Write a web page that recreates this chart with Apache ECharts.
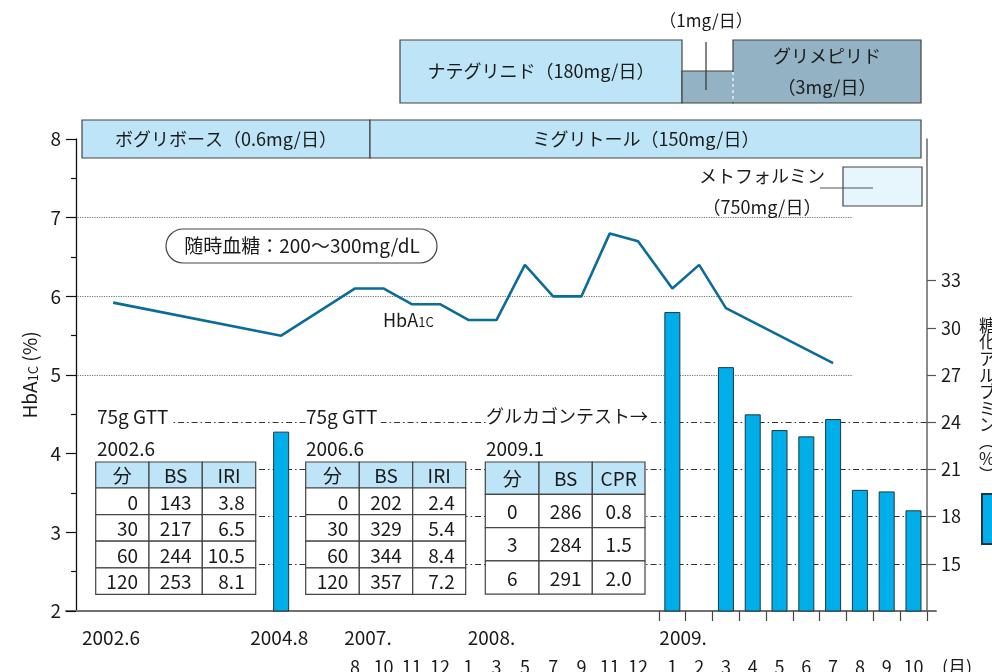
<!DOCTYPE html>
<html lang="ja">
<head>
<meta charset="utf-8">
<title>HbA1c・糖化アルブミンの経過</title>
<script src="https://cdn.jsdelivr.net/npm/echarts@6.0.0/dist/echarts.min.js"></script>
<style>
  html, body { margin: 0; padding: 0; background: #fff; }
  #chart { width: 992px; height: 672px; }
</style>
</head>
<body>
<div id="chart"></div>
<script>
// HbA1c (%)
var hbaDates = ['2002.6', '2004.8', '2007.8', '2007.10', '2007.11', '2007.12', '2008.1', '2008.3', '2008.5',
                '2008.7', '2008.9', '2008.11', '2008.12', '2009.1', '2009.2', '2009.3', '2009.7'];
var hbaValues = [5.92, 5.5, 6.1, 6.1, 5.9, 5.9, 5.7, 5.7, 6.4, 6.0, 6.0, 6.8, 6.7, 6.1, 6.4, 5.85, 5.15];

// 糖化アルブミン (%)
var gaDates = ['2004.8', '2009.1', '2009.3', '2009.4', '2009.5', '2009.6', '2009.7', '2009.8', '2009.9', '2009.10'];
var gaValues = [23.4, 31.0, 27.5, 24.5, 23.5, 23.1, 24.2, 19.7, 19.6, 18.4];

// bottom labels
var monthDates = ['2007.8', '2007.10', '2007.11', '2007.12', '2008.1', '2008.3', '2008.5', '2008.7', '2008.9',
                  '2008.11', '2008.12', '2009.1', '2009.2', '2009.3', '2009.4', '2009.5', '2009.6', '2009.7',
                  '2009.8', '2009.9', '2009.10'];
var monthLabels = ['8', '10', '11', '12', '1', '3', '5', '7', '9', '11', '12',
                   '1', '2', '3', '4', '5', '6', '7', '8', '9', '10'];
var yearLabels = ['2002.6', '2004.8', '2007.', '2008.', '2009.'];
var rightTicks = [15, 18, 21, 24, 27, 30, 33];

// 75g GTT 2002.6
var gtt1Min = [0, 30, 60, 120];
var gtt1BS = [143, 217, 244, 253];
var gtt1IRI = [3.8, 6.5, 10.5, 8.1];
// 75g GTT 2006.6
var gtt2Min = [0, 30, 60, 120];
var gtt2BS = [202, 329, 344, 357];
var gtt2IRI = [2.4, 5.4, 8.4, 7.2];
// グルカゴンテスト 2009.1
var glgMin = [0, 3, 6];
var glgBS = [286, 284, 291];
var glgCPR = [0.8, 1.5, 2.0];

// ---- broken time axis: 1 unit = one month of 2009, 0 = start of 2009 ----
var visitOrder = monthDates.slice(0, 11);
function col(d) {
  if (d === '2002.6') return -20.37;
  if (d === '2004.8') return -14.1;
  var i = visitOrder.indexOf(d);
  if (i >= 0) return -11.34 + i * 1.056;
  return +d.split('.')[1] - 0.5;
}
var monthCols = monthDates.map(col);
var yearLabelCol = [-20.45, -14.17, -10.86, -6.25, 0.9];
function nearest(list, labels, v) {
  var best = 0;
  for (var i = 1; i < list.length; i++) {
    if (Math.abs(list[i] - v) < Math.abs(list[best] - v)) best = i;
  }
  return labels[best];
}

var FONT = "'Noto Sans CJK JP', 'Noto Sans', sans-serif";
var INK = '#1a1a1a';
var LIGHT = '#bee4f7';
var GREYBLUE = '#93b2c4';

function txt(x, y, s, size, opts) {
  var st = { text: s, fontSize: size, fontFamily: FONT, fill: INK, align: 'center', verticalAlign: 'middle' };
  for (var k in (opts || {})) st[k] = opts[k];
  return { type: 'text', x: x, y: y, z: 20, style: st };
}
function box(x, y, w, h, fill, extra) {
  var e = { type: 'rect', z: 20, shape: { x: x, y: y, width: w, height: h },
            style: { fill: fill, stroke: '#444', lineWidth: 1.2 } };
  if (extra) for (var k in extra) e.shape[k] = extra[k];
  return e;
}
function seg(x1, y1, x2, y2, color, dash, w) {
  return { type: 'line', z: 21, shape: { x1: x1, y1: y1, x2: x2, y2: y2 },
           style: { stroke: color, lineWidth: w || 1.2, lineDash: dash || null } };
}

// table drawn from the arrays above
function table(x0, y0, colW, headH, rowH, heads, cols, aligns, fmt) {
  var out = [];
  var x = x0;
  for (var c = 0; c < colW.length; c++) {
    out.push(box(x, y0, colW[c], headH, LIGHT));
    out.push(txt(x + colW[c] / 2, y0 + headH / 2 + 1, heads[c], 19));
    for (var r = 0; r < cols[c].length; r++) {
      var yy = y0 + headH + r * rowH;
      out.push(box(x, yy, colW[c], rowH, '#fff'));
      var v = fmt[c] ? cols[c][r].toFixed(1) : String(cols[c][r]);
      if (aligns[c] === 'right') {
        out.push(txt(x + colW[c] - 11, yy + rowH / 2 + 1, v, 19, { align: 'right' }));
      } else {
        out.push(txt(x + colW[c] / 2, yy + rowH / 2 + 1, v, 19));
      }
    }
    x += colW[c];
  }
  return out;
}

var graphics = [];
// top regimen boxes
graphics.push(box(400, 40, 282, 63, LIGHT));
graphics.push(box(682, 71, 51, 32, GREYBLUE));
graphics.push(box(733, 40, 188, 63, GREYBLUE));
graphics.push(seg(733, 72, 733, 102, GREYBLUE, null, 2));
graphics.push(seg(733, 72, 733, 102, '#ffffff', [3, 3]));
graphics.push(seg(706, 42, 706, 90, '#333'));
graphics.push(txt(706, 21, '（1mg/日）', 17));
graphics.push(txt(541, 71, 'ナテグリニド（180mg/日）', 18));
graphics.push(txt(827, 56, 'グリメピリド', 18));
graphics.push(txt(827, 87, '（3mg/日）', 18));
graphics.push(box(82, 120, 288, 38, LIGHT));
graphics.push(box(370, 120, 551, 38, LIGHT));
graphics.push(txt(226, 139, 'ボグリボース（0.6mg/日）', 18));
graphics.push(txt(646, 139, 'ミグリトール（150mg/日）', 18));
graphics.push(box(843, 167, 79, 39, '#e7f5fd'));
graphics.push(seg(820, 188, 873, 188, '#555'));
graphics.push(txt(762, 176, 'メトフォルミン', 18));
graphics.push(txt(762, 207, '（750mg/日）', 18));
// note
graphics.push(box(166, 229, 271, 34, '#fff', { r: 17 }));
graphics.push(txt(302, 246, '随時血糖：200〜300mg/dL', 19));
graphics.push({ type: 'text', x: 383, y: 320, z: 20,
  style: { text: '{a|HbA}{b|1C}', verticalAlign: 'middle', fill: INK,
           rich: { a: { fontSize: 18, fontFamily: FONT, fill: INK },
                   b: { fontSize: 13, fontFamily: FONT, fill: INK, verticalAlign: 'bottom' } } } });
// right axis title (vertical, runs off the right edge as in the source)
graphics.push({ type: 'text', x: 979, y: 317, z: 20,
  style: { text: '糖\n化\nア\nル\nブ\nミ\nン\n︵\n%\n︶', fontSize: 17, lineHeight: 16.6,
           fontFamily: FONT, fill: INK, align: 'left', verticalAlign: 'top' } });
// test captions
var cap = { align: 'left', backgroundColor: '#fff', padding: [0, 3, 0, 0] };
graphics.push(txt(97, 417, '75g GTT', 19, cap));
graphics.push(txt(97, 449, '2002.6', 19, cap));
graphics.push(txt(306, 417, '75g GTT', 19, cap));
graphics.push(txt(306, 449, '2006.6', 19, cap));
graphics.push(txt(486, 416, 'グルカゴンテスト→', 18, cap));
graphics.push(txt(486, 449, '2009.1', 19, cap));
graphics = graphics
  .concat(table(95.7, 462, [53.3, 53.3, 53.4], 26, 26.6, ['分', 'BS', 'IRI'],
                [gtt1Min, gtt1BS, gtt1IRI], ['right', 'center', 'right'], [0, 0, 1]))
  .concat(table(305.7, 462, [53.6, 53.4, 53], 26, 26.6, ['分', 'BS', 'IRI'],
                [gtt2Min, gtt2BS, gtt2IRI], ['right', 'center', 'right'], [0, 0, 1]))
  .concat(table(485.3, 462, [53.7, 53.3, 52.7], 32.3, 33.3, ['分', 'BS', 'CPR'],
                [glgMin, glgBS, glgCPR], ['center', 'center', 'center'], [0, 0, 1]));

var chart = echarts.init(document.getElementById('chart'));
var XMIN = -22.13, XMAX = 10.34;
function gridBox() {
  return { left: 66, right: 56, top: 139, bottom: 61, outerBoundsMode: 'none', containLabel: false };
}

chart.setOption({
  animation: false,
  textStyle: { fontFamily: FONT, color: INK },
  grid: [gridBox(), gridBox()],
  legend: {
    data: ['糖化アルブミン'], left: 981, top: 493, padding: 0, orient: 'vertical', icon: 'rect',
    itemWidth: 22, itemHeight: 50, selectedMode: false, textStyle: { fontSize: 16 }
  },
  xAxis: [{
    type: 'value', gridIndex: 0, min: XMIN, max: XMAX,
    axisLine: { onZero: false, lineStyle: { color: '#707070', width: 2 } },
    axisTick: { customValues: [0, 1, 2, 3, 4, 5, 6, 7, 8, 9, 10], length: 10, lineStyle: { color: '#444', width: 1.2 } },
    axisLabel: { customValues: yearLabelCol, margin: 17, fontSize: 19, color: INK,
                 formatter: function (v) { return nearest(yearLabelCol, yearLabels, v); } },
    splitLine: { show: false }
  }, {
    type: 'value', gridIndex: 1, min: XMIN, max: XMAX,
    axisLine: { show: false }, axisTick: { show: false }, splitLine: { show: false },
    axisLabel: { customValues: monthCols, margin: 47, fontSize: 18, color: INK,
                 formatter: function (v) { return nearest(monthCols, monthLabels, v); } },
    name: '(月)', nameLocation: 'end', nameGap: 6,
    nameTextStyle: { fontSize: 18, color: INK, verticalAlign: 'top', padding: [47, 0, 0, 0] }
  }],
  yAxis: [{
    type: 'value', gridIndex: 0, position: 'left', min: 2, max: 8, interval: 1, offset: -10,
    axisLine: { show: true, onZero: false, lineStyle: { color: '#111', width: 1.3 } },
    axisTick: { show: true, length: 10, lineStyle: { color: '#111', width: 1.2 } },
    minorTick: { show: true, splitNumber: 2, length: 5, lineStyle: { color: '#111', width: 1.2 } },
    axisLabel: { fontSize: 19, margin: 15, color: INK },
    splitLine: { show: false },
    name: '{a|HbA}{b|1C}{a| (%)}', nameLocation: 'middle', nameGap: 36,
    nameTextStyle: { rich: { a: { fontSize: 19, fontFamily: FONT, color: INK },
                             b: { fontSize: 13, fontFamily: FONT, color: INK, verticalAlign: 'bottom' } } }
  }, {
    type: 'value', gridIndex: 0, position: 'right', min: 12, max: 42, interval: 3, offset: -9,
    axisLine: { show: true, onZero: false, lineStyle: { color: '#666', width: 1.5 } },
    axisTick: { show: true, customValues: rightTicks, length: 9, lineStyle: { color: '#555', width: 1.2 } },
    axisLabel: { customValues: rightTicks, fontSize: 18, margin: 14, color: INK },
    splitLine: { show: false }
  }, {
    type: 'value', gridIndex: 1, min: 0, max: 1, show: false
  }],
  series: [{
    type: 'bar', name: '糖化アルブミン', xAxisIndex: 0, yAxisIndex: 1, barWidth: 16, z: 2,
    data: gaDates.map(function (d, i) { return [col(d), gaValues[i]]; }),
    itemStyle: { color: '#00aee9', borderColor: '#1e3644', borderWidth: 1 },
    markLine: {
      silent: true, symbol: 'none', z: 1, label: { show: false },
      lineStyle: { type: [6, 3, 1.5, 3], color: '#333', width: 1.1 },
      data: [15, 18, 21, 24].map(function (v) { return [{ coord: [-20.97, v] }, { coord: [10, v] }]; })
    }
  }, {
    type: 'line', name: 'HbA1c', xAxisIndex: 0, yAxisIndex: 0, symbol: 'none', z: 3,
    data: hbaDates.map(function (d, i) { return [col(d), hbaValues[i]]; }),
    lineStyle: { color: '#0c6c98', width: 2.6 },
    markLine: {
      silent: true, symbol: 'none', z: 1, label: { show: false },
      lineStyle: { type: 'dotted', color: '#777', width: 1.2 },
      data: [5, 6, 7].map(function (v) { return [{ coord: [-21.7, v] }, { coord: [7.24, v] }]; })
    }
  }],
  graphic: graphics
});
</script>
</body>
</html>
